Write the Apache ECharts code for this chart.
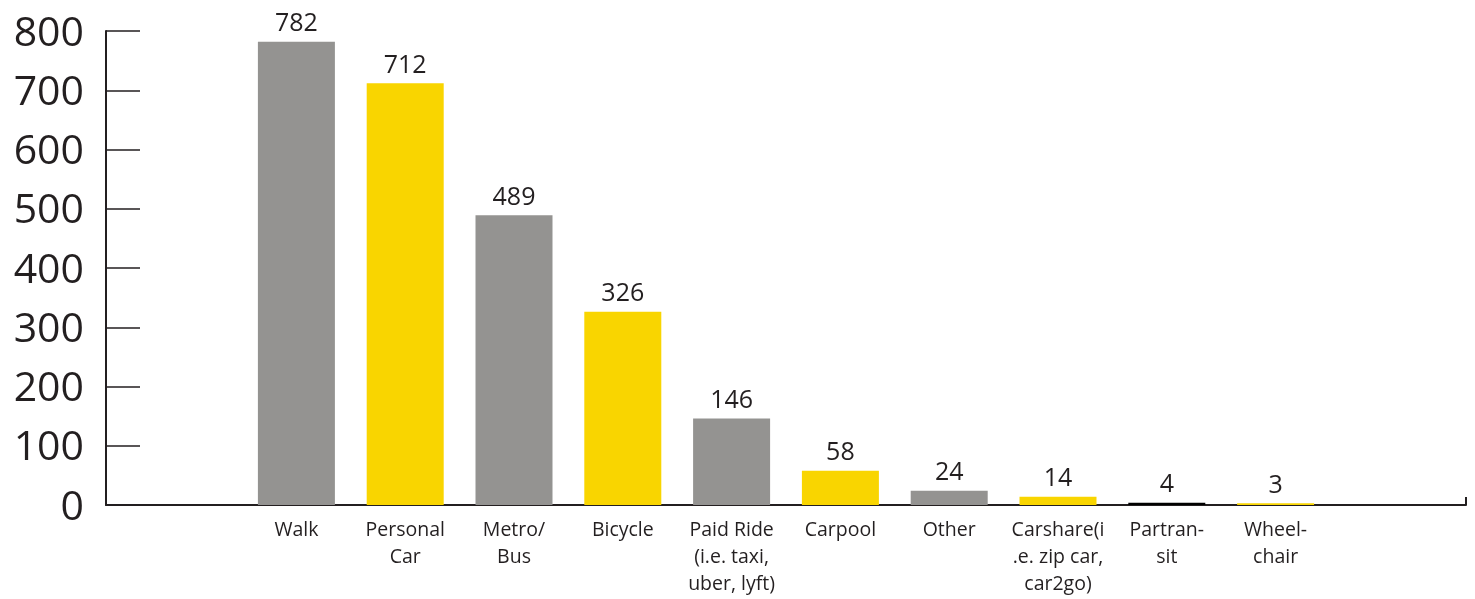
<!DOCTYPE html>
<html>
<head>
<meta charset="utf-8">
<script src="https://cdn.jsdelivr.net/npm/echarts@6/dist/echarts.min.js"></script>
<style>
html,body{margin:0;padding:0;background:#fff;}
#chart{width:1475px;height:599px;}
</style>
</head>
<body>
<div id="chart"></div>
<script>
// ---- data ----
var categories = ["Walk", "Personal\nCar", "Metro/\nBus", "Bicycle", "Paid Ride\n(i.e. taxi,\nuber, lyft)", "Carpool", "Other", "Carshare(i\n.e. zip car,\ncar2go)", "Partran-\nsit", "Wheel-\nchair"];
var values = [782, 712, 489, 326, 146, 58, 24, 14, 4, 3];
var yTicks = [0, 100, 200, 300, 400, 500, 600, 700, 800];

// ---- styles ----
var GRAY = '#949391', YELLOW = '#f9d500', BLACK = '#000000';
var barColors = [GRAY, YELLOW, GRAY, YELLOW, GRAY, YELLOW, GRAY, YELLOW, BLACK, YELLOW];
var INK = '#231f20';
var FONT = '"Open Sans", "Noto Sans", sans-serif';

var chart = echarts.init(document.getElementById('chart'), null, {renderer: 'canvas'});
var TOP = 31, BOTTOM = 94;
chart.setOption({
  animation: false,
  backgroundColor: '#fff',
  grid: [
    {left: 106, right: 9, top: TOP, bottom: BOTTOM},
    {left: 242, right: 145, top: TOP, bottom: BOTTOM}
  ],
  xAxis: [
    {
      gridIndex: 0, type: 'value', min: 0, max: 1, interval: 1,
      axisLine: {show: true, lineStyle: {color: INK, width: 2}},
      axisTick: {show: true, inside: true, length: 8, lineStyle: {color: INK, width: 2}},
      axisLabel: {show: false},
      splitLine: {show: false}
    },
    {
      gridIndex: 1, type: 'category', data: categories,
      axisLine: {show: false}, axisTick: {show: false},
      axisLabel: {interval: 0, color: INK, fontFamily: FONT, fontSize: 19.5, lineHeight: 27, margin: 12}
    }
  ],
  yAxis: [
    {
      gridIndex: 0, type: 'value', min: yTicks[0], max: yTicks[yTicks.length - 1], interval: 100,
      axisLine: {show: true, lineStyle: {color: INK, width: 2}},
      axisTick: {show: true, inside: true, length: 34, lineStyle: {color: INK, width: 1.5}},
      axisLabel: {
        margin: 22,
        formatter: function (v) { return '{t|' + v + '}'; },
        rich: {t: {color: INK, fontFamily: FONT, fontSize: 41, padding: [6, 0, 0, 0]}}
      },
      splitLine: {show: false}
    },
    {
      gridIndex: 1, type: 'value', min: yTicks[0], max: yTicks[yTicks.length - 1], interval: 100,
      show: false
    }
  ],
  series: [{
    type: 'bar',
    xAxisIndex: 1, yAxisIndex: 1,
    barWidth: 77,
    data: values.map(function (v, i) { return {value: v, itemStyle: {color: barColors[i]}}; }),
    label: {show: true, position: 'top', distance: 5, color: INK, fontFamily: FONT, fontSize: 25}
  }]
});
</script>
</body>
</html>
